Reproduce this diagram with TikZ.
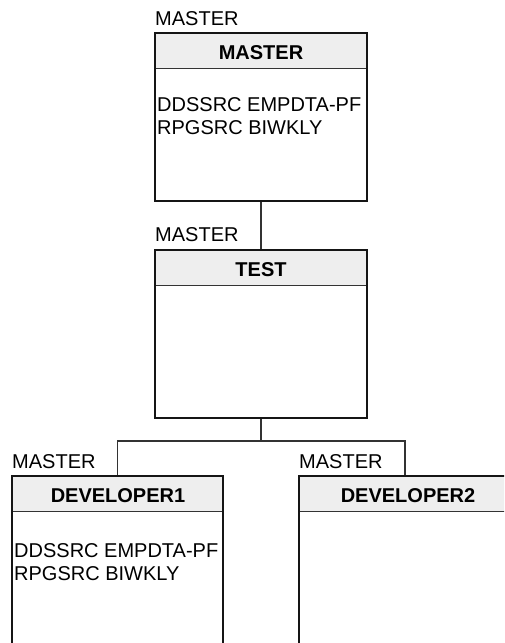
\documentclass[tikz,border=0pt]{standalone}
\usepackage{fontspec}
\setmainfont{Liberation Sans}
\definecolor{hdrgray}{HTML}{EEEEEE}
\definecolor{bordercol}{HTML}{151515}
\definecolor{conncol}{HTML}{333333}
\begin{document}
\begin{tikzpicture}[x=1pt,y=-1pt,
  txt/.style={font=\fontsize{20}{23}\selectfont, inner sep=0pt},
  hdr/.style={fill=hdrgray, draw=none, minimum width=212pt, minimum height=36pt, inner sep=0pt, anchor=north},
  boxframe/.style={draw=bordercol, line width=2.2pt, minimum width=212pt, inner sep=0pt},
  sep/.style={draw=conncol, line width=1pt},
  conn/.style={draw=conncol, line width=1.3pt}]
\useasboundingbox (0,0) rectangle (504,643);
\clip (0,0) rectangle (504,643);
% ---- MASTER box
\node[hdr] (mh) at (261,32) {};
\draw[sep] (mh.south west) -- (mh.south east);
\node[boxframe, minimum height=168pt, anchor=north] (m) at (261,32) {};
\node[txt, font=\fontsize{20}{23}\selectfont\bfseries, anchor=base] (mt) at (261,59) {MASTER};
\node[txt, anchor=base west] (ml) at (155,25) {MASTER};
\node[txt, anchor=base west] (m1) at (157,111) {DDSSRC EMPDTA-PF};
\node[txt, anchor=base west] (m2) at (157,134) {RPGSRC BIWKLY};
% ---- TEST box
\node[hdr] (th) at (261,249) {};
\draw[sep] (th.south west) -- (th.south east);
\node[boxframe, minimum height=168pt, anchor=north] (t) at (261,249) {};
\node[txt, font=\fontsize{20}{23}\selectfont\bfseries, anchor=base] (tt) at (261,276) {TEST};
\node[txt, anchor=base west] (tl) at (155,241) {MASTER};
% ---- DEVELOPER1 box
\node[hdr, minimum width=211pt] (d1h) at (117.5,475) {};
\draw[sep] (d1h.south west) -- (d1h.south east);
\node[boxframe, minimum width=211pt, minimum height=200pt, anchor=north] (d1) at (117.5,475) {};
\node[txt, font=\fontsize{20}{23}\selectfont\bfseries, anchor=base] (d1t) at (118,502) {DEVELOPER1};
\node[txt, anchor=base west] (d1l) at (12,468) {MASTER};
\node[txt, anchor=base west] (d11) at (14,557) {DDSSRC EMPDTA-PF};
\node[txt, anchor=base west] (d12) at (14,580) {RPGSRC BIWKLY};
% ---- DEVELOPER2 box
\node[hdr] (d2h) at (405,475) {};
\draw[sep] (d2h.south west) -- (d2h.south east);
\node[boxframe, minimum height=200pt, anchor=north] (d2) at (405,475) {};
\node[txt, font=\fontsize{20}{23}\selectfont\bfseries, anchor=base] (d2t) at (408,502) {DEVELOPER2};
\node[txt, anchor=base west] (d2l) at (299,468) {MASTER};
% ---- connectors
\coordinate (j) at (261,441);
\draw[conn] (m.south) -- (t.north);
\draw[conn] (t.south) -- (j);
\draw[conn] (d1.north) |- (j) -| (d2.north);
\end{tikzpicture}
\end{document}
